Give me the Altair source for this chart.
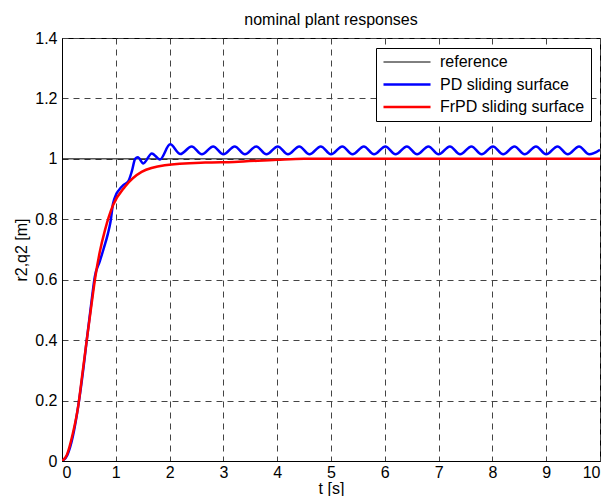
import altair as alt
import pandas as pd

# ---- data ----
series_names = ["reference", "PD sliding surface", "FrPD sliding surface"]
series_colors = ["#000000", "#0000ff", "#ff0000"]

ref_t = [0, 10]
ref_y = [1.0, 1.0]

pd_t = [0.0, 0.1, 0.2, 0.3, 0.4, 0.46, 0.55, 0.61, 0.7, 0.77, 0.85, 0.9, 0.95, 1.0, 1.05,
        1.14, 1.23, 1.3, 1.36, 1.41, 1.51, 1.67, 1.82, 2.01, 2.2, 2.41, 2.6, 2.81, 3.0,
        3.21, 3.4, 3.61, 3.8, 4.01, 4.2, 4.41, 4.6, 4.81, 5.0, 5.21, 5.4, 5.61, 5.8, 6.01,
        6.2, 6.41, 6.6, 6.81, 7.0, 7.21, 7.4, 7.61, 7.8, 8.01, 8.2, 8.41, 8.6, 8.81, 9.0,
        9.21, 9.4, 9.61, 9.8, 10.0]
pd_y = [0.0, 0.02, 0.08, 0.18, 0.31, 0.40, 0.53, 0.61, 0.66, 0.70, 0.75, 0.79, 0.853, 0.88, 0.895,
        0.913, 0.925, 0.96, 1.0, 1.005, 0.985, 1.018, 0.998, 1.048, 1.016, 1.041, 1.015, 1.041, 1.015,
        1.041, 1.015, 1.041, 1.015, 1.041, 1.015, 1.041, 1.015, 1.041, 1.015, 1.041, 1.015, 1.041, 1.015, 1.041,
        1.015, 1.041, 1.015, 1.041, 1.015, 1.041, 1.015, 1.041, 1.015, 1.041, 1.015, 1.041, 1.015, 1.041, 1.015,
        1.041, 1.015, 1.041, 1.015, 1.03]

frpd_t = [0.0, 0.09, 0.2, 0.3, 0.38, 0.46, 0.55, 0.62, 0.7, 0.8, 0.95, 1.17, 1.48, 1.91,
          2.66, 3.2, 4.0, 4.5, 10.0]
frpd_y = [0.0, 0.02, 0.09, 0.18, 0.29, 0.40, 0.52, 0.61, 0.69, 0.765, 0.847, 0.908, 0.957, 0.979,
          0.988, 0.99, 0.997, 1.0, 1.0]

x_ticks = [0, 1, 2, 3, 4, 5, 6, 7, 8, 9, 10]
y_ticks = [0, 0.2, 0.4, 0.6, 0.8, 1.0, 1.2, 1.4]

FONT = "Liberation Sans"

df_ref = pd.DataFrame({"t": ref_t, "v": ref_y, "series": series_names[0]})
df_pd = pd.DataFrame({"t": pd_t, "v": pd_y, "series": series_names[1]})
df_fr = pd.DataFrame({"t": frpd_t, "v": frpd_y, "series": series_names[2]})

x_enc = alt.X("t:Q", scale=alt.Scale(domain=[0, 10], nice=False, zero=False),
              axis=alt.Axis(values=x_ticks, title="t [s]", labelPadding=3, titlePadding=0))
y_enc = alt.Y("v:Q", scale=alt.Scale(domain=[0, 1.4], nice=False),
              axis=alt.Axis(values=y_ticks, format=".1~f", title="r2,q2 [m]",
                            labelPadding=5, titlePadding=5))
color_enc = alt.Color(
    "series:N",
    scale=alt.Scale(domain=series_names, range=series_colors),
    legend=alt.Legend(
        orient="none", legendX=314, legendY=10, title=None,
        fillColor="white", strokeColor="black", padding=6,
        symbolType="M-0.62,0H3.86", symbolSize=441,
        symbolStrokeWidth=alt.ExprRef("datum.value === 'reference' ? 1 : 2.5"),
        labelFont=FONT, labelFontSize=16, labelColor="black", labelOffset=42,
        rowPadding=6.5, labelExpr="datum.label + '     '",
    ),
)

def line(df, w):
    return alt.Chart(df).mark_line(strokeWidth=w, clip=True, interpolate="monotone").encode(
        x=x_enc, y=y_enc, color=color_enc)

chart = alt.layer(
    line(df_ref, 1),
    line(df_pd, 2.5),
    line(df_fr, 2.5),
).properties(
    width=538, height=423,
    autosize="none",
    padding={"left": 54, "top": 30, "right": 1, "bottom": 35},
    title=alt.Title("nominal plant responses", font=FONT, fontSize=16, fontWeight="normal",
                    color="black", offset=2),
).configure_view(
    stroke="black", strokeWidth=1
).configure_axis(
    domain=True, domainColor="black", ticks=False, grid=True,
    gridDash=[6, 5], gridColor="#444444", gridWidth=1,
    labelFont=FONT, labelFontSize=16, labelColor="black",
    titleFont=FONT, titleFontSize=16, titleFontWeight="normal", titleColor="black",
)

chart.save("out.html", embed_options={"renderer": "svg", "actions": False})
